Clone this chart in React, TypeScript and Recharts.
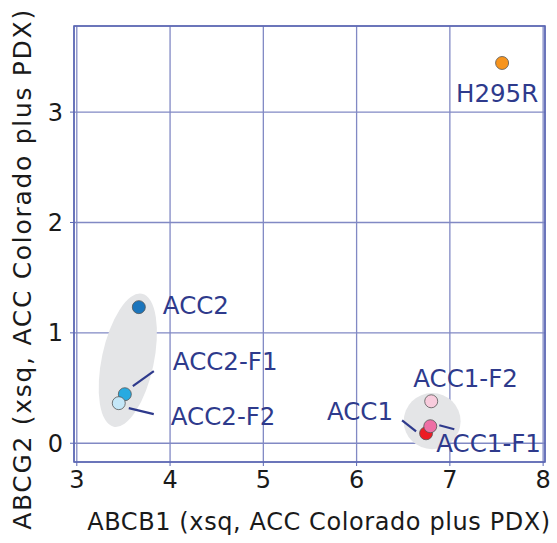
import React from "react"
import { ScatterChart, Scatter, XAxis, YAxis, CartesianGrid, ReferenceArea, Label } from "recharts"

// cell lines and expression values
const names = ["ACC2", "ACC2-F1", "ACC2-F2", "ACC1", "ACC1-F1", "ACC1-F2", "H295R"]
const abcb1 = [3.665, 3.515, 3.45, 6.745, 6.79, 6.8, 7.56]
const abcg2 = [1.233, 0.444, 0.363, 0.09, 0.154, 0.38, 3.445]

const xTicks = [3, 4, 5, 6, 7, 8]
const yTicks = [0, 1, 2, 3]

// grey grouping ellipses: [x1, x2, y1, y2] in data units
const groupBoxes = [
  { id: "acc2", x1: 3.268, x2: 3.826, y1: 0.136, y2: 1.368, angle: 12 },
  { id: "acc1", x1: 6.505, x2: 7.115, y1: -0.054, y2: 0.454, angle: 0 },
]

const X_DOMAIN: [number, number] = [2.97, 8.02]
const Y_DOMAIN: [number, number] = [-0.17, 3.78]

const fills: Record<string, string> = {
  ACC2: "#1B75BC",
  "ACC2-F1": "#27AAE1",
  "ACC2-F2": "#C4E7F8",
  ACC1: "#ED1C24",
  "ACC1-F1": "#EE6FA5",
  "ACC1-F2": "#F8CCDD",
  H295R: "#F7941D",
}

// label placement relative to the point, in px
const labelLayout: Record<string, { dx: number; dy: number; anchor: string; leader?: number[] }> = {
  H295R: { dx: -5, dy: 39, anchor: "middle" },
  ACC2: { dx: 24, dy: 7, anchor: "start" },
  "ACC2-F1": { dx: 48, dy: -24, anchor: "start", leader: [8, -8, 29, -23] },
  "ACC2-F2": { dx: 52, dy: 22, anchor: "start", leader: [10, 5, 35, 11] },
  ACC1: { dx: -33, dy: -13, anchor: "end", leader: [-24, -13, -10, -2] },
  "ACC1-F1": { dx: 6, dy: 26, anchor: "start", leader: [9, -1, 24, 3] },
  "ACC1-F2": { dx: -18, dy: -14, anchor: "start" },
}

const data = names.map((name, i) => ({ name, x: abcb1[i], y: abcg2[i] }))

const FONT = "DejaVu Sans, Verdana, sans-serif"
const LABEL_BLUE = "#2E3A8C"

const PointShape = (props: any) => {
  const { cx, cy, payload } = props
  const lay = labelLayout[payload.name]
  return (
    <g>
      {lay.leader && (
        <line
          x1={cx + lay.leader[0]}
          y1={cy + lay.leader[1]}
          x2={cx + lay.leader[2]}
          y2={cy + lay.leader[3]}
          stroke={LABEL_BLUE}
          strokeWidth={2.2}
        />
      )}
      <circle cx={cx} cy={cy} r={6.5} fill={fills[payload.name]} stroke="#555" strokeWidth={0.8} />
      <text
        x={cx + lay.dx}
        y={cy + lay.dy}
        textAnchor={lay.anchor as any}
        fill={LABEL_BLUE}
        style={{ fontFamily: FONT, fontSize: 24.5 }}
      >
        {payload.name}
      </text>
    </g>
  )
}

const ellipseShape = (angle: number) => (p: any) => {
  const cx = p.x + p.width / 2
  const cy = p.y + p.height / 2
  return (
    <ellipse
      cx={cx}
      cy={cy}
      rx={Math.abs(p.width) / 2}
      ry={Math.abs(p.height) / 2}
      transform={`rotate(${angle} ${cx} ${cy})`}
      fill="#E4E5E7"
    />
  )
}

const tickStyle = { fontFamily: FONT, fontSize: 24, fill: "#1a1a1a" }

export default function App() {
  return (
    <div style={{ position: "absolute", left: 0, top: 0, background: "#fff" }}>
      <ScatterChart width={557} height={543} margin={{ top: 26, right: 12, bottom: 0, left: 0 }}>
        <CartesianGrid stroke="#8189C4" strokeWidth={1.3} />
        <XAxis
          type="number"
          dataKey="x"
          domain={X_DOMAIN}
          ticks={xTicks}
          allowDataOverflow
          height={81}
          tick={tickStyle}
          tickSize={4}
          tickMargin={5}
          axisLine={false}
          tickLine={{ stroke: "#5A66B3" }}
        >
          <Label
            content={() => (
              <text
                x={319}
                y={530}
                textAnchor="middle"
                fill="#1a1a1a"
                style={{ fontFamily: FONT, fontSize: 24, letterSpacing: 0.6 }}
              >
                ABCB1 (xsq, ACC Colorado plus PDX)
              </text>
            )}
          />
        </XAxis>
        <YAxis
          type="number"
          dataKey="y"
          domain={Y_DOMAIN}
          ticks={yTicks}
          allowDataOverflow
          width={74}
          tick={tickStyle}
          tickSize={4}
          tickMargin={7}
          axisLine={false}
          tickLine={{ stroke: "#5A66B3" }}
        >
          <Label
            content={() => (
              <text
                transform="translate(31 269) rotate(-90)"
                textAnchor="middle"
                fill="#1a1a1a"
                style={{ fontFamily: FONT, fontSize: 25, letterSpacing: 1.7 }}
              >
                ABCG2 (xsq, ACC Colorado plus PDX)
              </text>
            )}
          />
        </YAxis>
        <ReferenceArea
          x1={X_DOMAIN[0]}
          x2={X_DOMAIN[1]}
          y1={Y_DOMAIN[0]}
          y2={Y_DOMAIN[1]}
          fill="none"
          stroke="#5A66B3"
          strokeWidth={1.6}
          fillOpacity={0}
        />
        {groupBoxes.map((g) => (
          <ReferenceArea
            key={g.id}
            x1={g.x1}
            x2={g.x2}
            y1={g.y1}
            y2={g.y2}
            shape={ellipseShape(g.angle)}
          />
        ))}
        <Scatter data={data} isAnimationActive={false} shape={PointShape} />
      </ScatterChart>
    </div>
  )
}
